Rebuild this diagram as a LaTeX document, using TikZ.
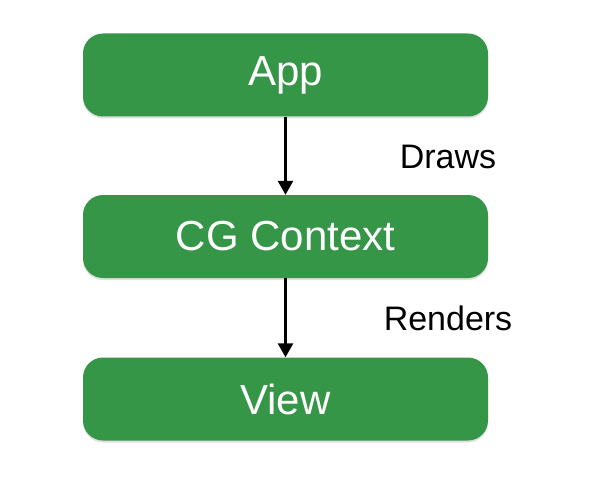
\documentclass[tikz,border=0pt]{standalone}
\usepackage{fontspec}
\setmainfont{Liberation Sans}
\usetikzlibrary{shadows,arrows.meta}
\definecolor{boxgreen}{RGB}{54,150,71}
\tikzset{
  box/.style={draw=none, fill=boxgreen, rounded corners=20pt,
    minimum width=405pt, minimum height=83pt, text=white,
    font=\fontsize{42}{44}\selectfont,
    drop shadow={shadow xshift=0pt, shadow yshift=-2pt, opacity=0.25}},
  lbl/.style={font=\fontsize{34}{36}\selectfont, text=black},
}
\begin{document}
\begin{tikzpicture}[x=1pt, y=-1pt]
  \useasboundingbox (0,0) rectangle (591,500);
  \node[box] (app) at (285.5,75) {App};
  \node[box] (cg) at (285.5,236.5) {CG Context};
  \node[box] (view) at (285.5,399) {View};
  \node[lbl] (draws) at (448,157) {Draws};
  \node[lbl] (renders) at (448,318) {Renders};
  \begin{scope}[-{Triangle[length=14pt,width=15pt]}, line width=2.6pt]
    \draw (app) to (cg);
    \draw (cg) to (view);
  \end{scope}
\end{tikzpicture}
\end{document}
